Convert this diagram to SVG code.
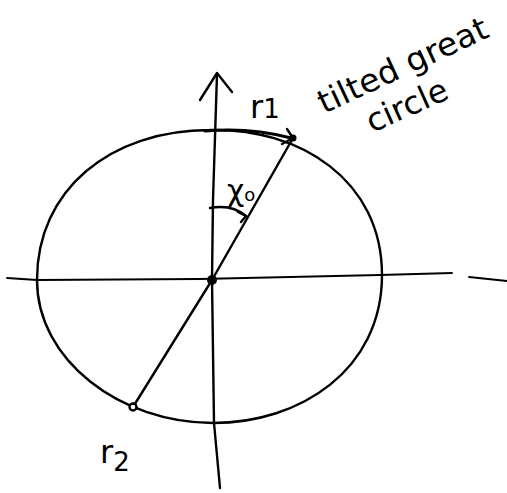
<svg xmlns="http://www.w3.org/2000/svg" width="507" height="493" viewBox="0 0 507 493">
<style>
.ink{fill:none;stroke:#000;stroke-width:2.4;stroke-linecap:round;stroke-linejoin:round}
.thin{fill:none;stroke:#000;stroke-width:1.8;stroke-linecap:round;stroke-linejoin:round}
.lbl{font-family:"DejaVu Sans","Liberation Sans",sans-serif;fill:#000}
</style>
<rect width="507" height="493" fill="#fff"/>
<g id="great-circle">
<path class="ink" d="M210,130 C300,128 382,180 382,275 C382,370 300,423 213,423 C120,423 37,360 37,280 C37,190 110,130 210,130"/>
</g>
<g id="axes">
<path class="thin" d="M7,278 L37,280 L200,279 L380,275 L452,273"/>
<path class="thin" d="M469,277 L507,281"/>
<path class="ink" d="M217,74 L213,200 L212,280 L214,423 L220,488"/>
<path class="ink" d="M200,100 L217,73 L232,92"/>
</g>
<g id="connectors">
<path class="ink" d="M133,407 L212,280 L293,138"/>
<path class="ink" style="stroke-width:3" d="M205,131 Q250,127 291,138"/>
<path class="ink" d="M287,129 L293,138 L282,144"/>
<path class="ink" d="M210,208 Q232,204 246,216"/>
<path class="ink" d="M238,212 L246,216 L241,222"/>
</g>
<g id="center"><circle cx="212" cy="280" r="5" fill="#000"/></g>
<g id="r1-point"><circle cx="293" cy="138" r="3.5" fill="#000"/></g>
<g id="r2-point"><circle cx="133" cy="407" r="3.5" fill="#fff" stroke="#000" stroke-width="2.4"/></g>
<g id="labels">
<text class="lbl" x="250" y="118" font-size="32">r<tspan font-size="26">1</tspan></text>
<text class="lbl" x="227" y="201" font-size="30">χ<tspan font-size="18">o</tspan></text>
<text class="lbl" x="100" y="463" font-size="32">r<tspan font-size="26" dy="8">2</tspan></text>
<text class="lbl" font-size="32" transform="translate(324,114) rotate(-25)" textLength="184" lengthAdjust="spacingAndGlyphs">tilted great</text>
<text class="lbl" font-size="32" transform="translate(372,133) rotate(-24)" textLength="86" lengthAdjust="spacingAndGlyphs">circle</text>
</g>
</svg>
